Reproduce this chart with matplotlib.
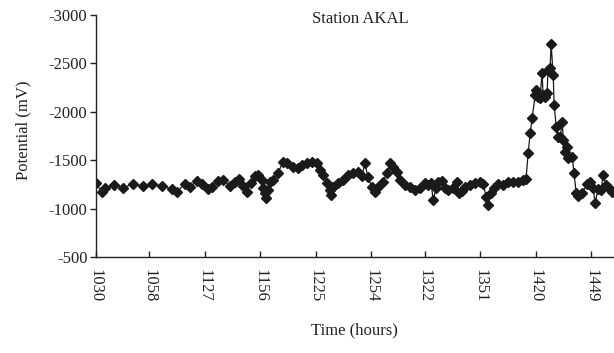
#!/usr/bin/env python3
"""Potential vs time at station AKAL (inverted potential axis)."""

import matplotlib
matplotlib.use("Agg")
import matplotlib.pyplot as plt  # noqa: E402

# minutes after 10:30
minutes = [
    0, 3.2, 4.7, 9.4, 14.1, 19.4, 24.6, 29.3, 34.5, 39.8,
    42.4, 46.5, 49.2, 52.9, 55.5, 58.7, 60.7, 63.8, 66.5, 70.2,
    72.7, 74.8, 77.0, 79.0, 81.1, 83.2, 84.8, 86.8, 87.4, 88.4,
    89.0, 90.0, 91.1, 92.6, 95.3, 97.9, 99.9, 103.1, 105.7, 107.8,
    110.5, 113.0, 115.6, 117.2, 118.8, 120.9, 122.5, 123.0, 124.1, 126.6,
    129.2, 131.9, 134.5, 137.2, 139.2, 140.7, 142.3, 144.4, 146.0, 147.6,
    150.2, 152.2, 153.8, 155.4, 157.5, 159.1, 161.7, 164.4, 166.9, 169.6,
    172.2, 173.8, 175.4, 176.4, 178.0, 178.9, 181.0, 182.6, 184.2, 186.9,
    189.0, 190.0, 191.6, 193.1, 195.7, 198.3, 201.0, 202.6, 204.2, 205.1,
    206.7, 208.3, 210.4, 213.0, 215.7, 218.3, 220.8, 223.5, 225.0, 226.1,
    227.2, 228.2, 229.8, 230.3, 231.4, 232.3, 233.4, 233.9, 235.0, 236.0,
    236.5, 237.6, 238.1, 239.2, 239.7, 240.8, 241.8, 242.9, 243.9, 244.5,
    245.4, 246.5, 247.0, 249.1, 250.1, 251.2, 252.3, 254.4, 257.0, 258.5,
    260.1, 261.1, 262.7, 264.3, 265.3, 266.9, 268.5, 270.1,
]

potential = [
    -1264, -1171, -1213, -1244, -1213, -1254, -1233, -1254, -1233, -1202,
    -1171, -1254, -1223, -1285, -1254, -1202, -1223, -1285, -1295, -1233,
    -1275, -1306, -1233, -1171, -1264, -1337, -1347, -1295, -1213, -1161,
    -1109, -1192, -1275, -1295, -1368, -1481, -1471, -1430, -1419, -1450,
    -1471, -1481, -1471, -1399, -1347, -1264, -1192, -1140, -1223, -1264,
    -1295, -1347, -1368, -1378, -1337, -1471, -1326, -1223, -1171, -1223,
    -1275, -1368, -1471, -1430, -1378, -1295, -1244, -1223, -1192, -1213,
    -1264, -1244, -1264, -1089, -1213, -1275, -1285, -1213, -1192, -1213,
    -1275, -1161, -1182, -1223, -1244, -1264, -1275, -1254, -1120, -1037,
    -1161, -1213, -1254, -1244, -1275, -1275, -1275, -1295, -1306, -1574,
    -1781, -1936, -2173, -2225, -2153, -2142, -2401, -2173, -2153, -2194,
    -2432, -2452, -2700, -2380, -2070, -1843, -1740, -1740, -1895, -1709,
    -1585, -1636, -1523, -1533, -1368, -1161, -1130, -1161, -1254, -1275,
    -1213, -1058, -1202, -1192, -1347, -1244, -1213, -1171,
]

tick_labels = ["1030", "1058", "1127", "1156", "1225", "1254",
               "1322", "1351", "1420", "1449"]


def to_minutes(hhmm):
    return int(hhmm[:2]) * 60 + int(hhmm[2:]) - 630


def main():
    plt.rcParams["font.family"] = ["Liberation Serif", "DejaVu Serif"]
    plt.rcParams["axes.unicode_minus"] = False

    fig = plt.figure(figsize=(6.14, 3.53), dpi=100)
    ax = fig.add_axes([0.156, 0.272, 0.844, 0.686])

    ax.plot(minutes, potential, color="#1a1a1a", lw=0.9,
            marker="D", markersize=5.4, markerfacecolor="#1a1a1a",
            markeredgecolor="#1a1a1a")

    ax.set_xlim(0, 271)
    ax.set_ylim(-500, -3000)
    ax.set_yticks([-500, -1000, -1500, -2000, -2500, -3000])

    ax.set_xticks([to_minutes(s) for s in tick_labels])
    ax.set_xticklabels(tick_labels, rotation=-90, va="top", ha="center")

    for side in ("top", "right"):
        ax.spines[side].set_visible(False)
    for side in ("left", "bottom"):
        ax.spines[side].set_linewidth(1.0)
        ax.spines[side].set_color("#222222")

    ax.tick_params(axis="y", direction="out", length=4, width=1.0,
                   pad=2, labelsize=12, colors="#222222")
    ax.tick_params(axis="x", direction="in", length=4, width=1.0,
                   pad=9, labelsize=12, colors="#222222")

    ax.text(0.51, 1.015, "Station AKAL", transform=ax.transAxes,
            ha="center", va="top", fontsize=12, color="#222222")

    fig.text(0.578, 0.065, "Time (hours)", ha="center", va="center",
             fontsize=12, color="#222222")
    fig.text(0.038, 0.63, "Potential (mV)", ha="center", va="center",
             rotation=90, fontsize=12, color="#222222")

    fig.savefig("out.png", dpi=100)


if __name__ == "__main__":
    main()
